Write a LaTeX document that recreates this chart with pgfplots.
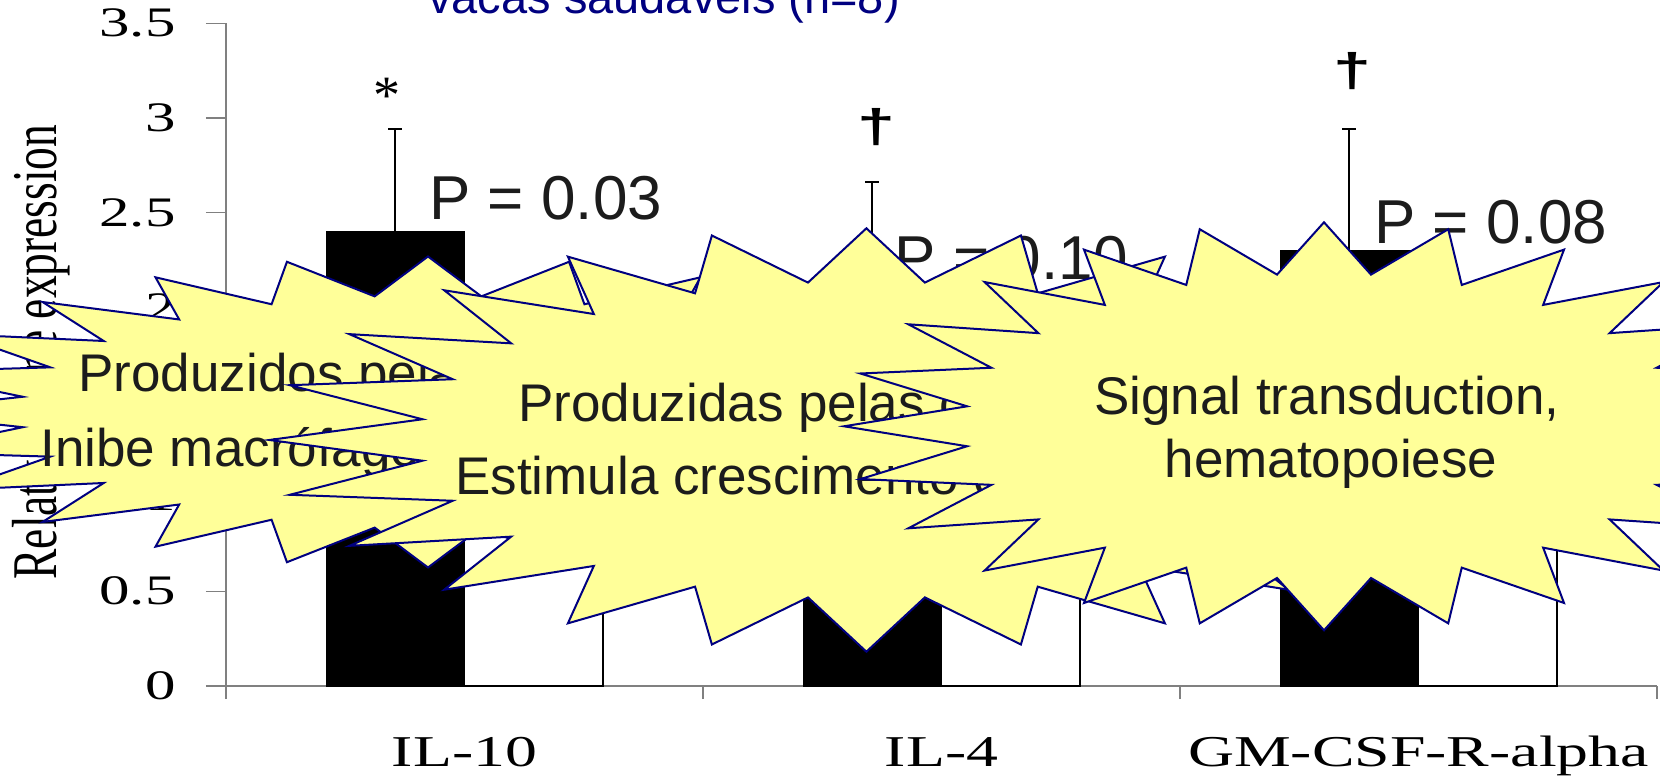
\documentclass[border=0pt]{standalone}
\usepackage{fontspec}
\setmainfont{Liberation Sans}
\newfontfamily\tnr[FakeStretch=1.45]{Liberation Serif}
\newfontfamily\tnrup{Liberation Serif}
\newfontfamily\dagfont[FakeStretch=1.45]{Liberation Sans Bold}
\usepackage{graphicx}
\usepackage{pgfplots}
\pgfplotsset{compat=1.18}

\definecolor{starfill}{HTML}{FFFF99}
\definecolor{starline}{HTML}{000080}
\definecolor{axgray}{HTML}{808080}
\definecolor{titlenavy}{HTML}{000080}
\definecolor{inkgray}{HTML}{1C1C1C}

% 24-point burst, centre (#1,#2), outer half-axes #3 and #4, all in px
\newcommand\burst[4]{%
  \path[fill=starfill, draw=starline, line width=1pt, line join=miter, miter limit=25]
    plot[variable=\k, samples at={0,...,47}]
      ({#1+#3*(1-0.25*mod(\k,2))*cos(90+7.5*\k)},{#2+#4*(1-0.25*mod(\k,2))*sin(90+7.5*\k)}) -- cycle;}

\begin{document}
\begin{tikzpicture}
\begin{axis}[
  at={(113pt,45pt)}, anchor=south west,
  scale only axis, width=715.5pt, height=331.35pt,
  xmin=-0.5, xmax=2.5, ymin=0, ymax=3.5,
  axis x line*=bottom, axis y line*=left,
  axis line style={axgray, line width=0.75pt},
  tick align=outside,
  major tick length=10pt, minor tick length=6.5pt,
  xtick={0,1,2},
  xticklabels={IL-10,IL-4,GM-CSF-R-alpha},
  major x tick style={draw=none},
  minor xtick={-0.5,0.5,1.5,2.5},
  minor x tick style={axgray, line width=0.75pt},
  ytick={0,0.5,1,1.5,2,2.5,3,3.5},
  yticklabels={0,0.5,1,1.5,2,2.5,3,3.5},
  ytick style={axgray, line width=0.75pt},
  xticklabel style={font=\tnr\fontsize{22pt}{26pt}\selectfont, anchor=base, inner sep=0pt, yshift=-30pt},
  yticklabel style={font=\tnr\fontsize{21pt}{25pt}\selectfont, anchor=east, inner sep=0pt, xshift=-15pt},
  ylabel={\scalebox{1}[1.4]{Relative gene expression}},
  ylabel style={font=\tnrup\fontsize{22.75pt}{26pt}\selectfont, at={(axis description cs:-0.1181,0.504)}, anchor=base, inner sep=0pt},
]
% treated (black, left of each category) and control (white, right), errors upward only
\addplot[ybar, bar width=0.29, bar shift=0, fill=black, draw=black, line width=0.5pt,
  error bars/.cd, y dir=plus, y explicit,
  error bar style={black, line width=1pt},
  error mark options={rotate=90, black, line width=1pt, mark size=3.5pt}]
  coordinates {(-0.145,2.40) +- (0,0.54) (0.855,2.00) +- (0,0.66) (1.855,2.30) +- (0,0.64)};
\addplot[ybar, bar width=0.29, bar shift=0, fill=white, draw=black, line width=0.75pt,
  error bars/.cd, y dir=plus, y explicit,
  error bar style={black, line width=1pt},
  error mark options={rotate=90, black, line width=1pt, mark size=3.5pt}]
  coordinates {(0.145,1.00) +- (0,0.22) (1.145,1.00) +- (0,0.25) (2.145,1.00) +- (0,0.20)};
\end{axis}

\begin{scope}[x=0.5pt, y=-0.5pt, shift={(0pt,388pt)}]
  \node[anchor=base, inner sep=0pt, text=titlenavy, font=\fontsize{23.5pt}{28pt}\selectfont]
    at (664,13.3) {vacas saudáveis (n=8)};
  % p values and significance marks
  \begin{scope}[every node/.style={anchor=base west, inner sep=0pt, text=inkgray, font=\fontsize{31pt}{36pt}\selectfont}]
    \node at (429,220) {P = 0.03};
    \node at (894.5,280) {P = 0.10};
    \node at (1374,244) {P = 0.08};
  \end{scope}
  \node[anchor=base, inner sep=0pt, font=\tnrup\fontsize{27pt}{30pt}\selectfont] at (387,114) {*};
  \node[anchor=base, inner sep=0pt, font=\dagfont\fontsize{23.5pt}{26pt}\selectfont] at (876,143) {†};
  \node[anchor=base, inner sep=0pt, font=\dagfont\fontsize{23.5pt}{26pt}\selectfont] at (1352.6,86.5) {†};
  % callouts, drawn left to right so each covers the previous one
  \begin{scope}[every node/.style={inner sep=0pt, text=inkgray, font=\fontsize{26.5pt}{30pt}\selectfont}]
    \burst{428}{412}{545}{155.5}
    \node[anchor=base west] at (78,391.7) {Produzidos pelas células Th2};
    \node[anchor=base west] at (40,466.7) {Inibe macrófagos e linfócitos Th1};
    \burst{866.4}{440}{597}{211.7}
    \node[anchor=base west] at (518,421.7) {Produzidas pelas células Th2};
    \node[anchor=base west] at (455,495) {Estimula crescimento de células B};
    \burst{1324}{426.3}{480}{204}
    \node[anchor=base] at (1327,415) {Signal transduction,};
    \node[anchor=base] at (1331,477.3) {hematopoiese};
  \end{scope}
\end{scope}

\pgfresetboundingbox
\useasboundingbox (0,0) rectangle (830pt,388pt);
\end{tikzpicture}
\end{document}
